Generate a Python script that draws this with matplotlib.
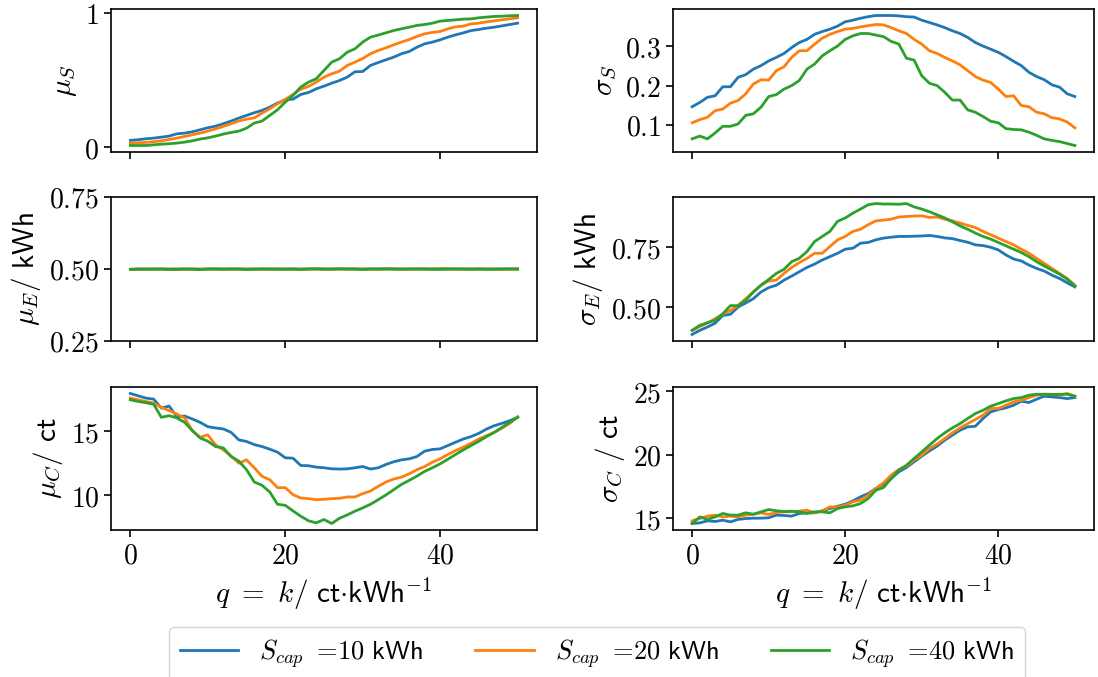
import matplotlib
matplotlib.use("Agg")
import matplotlib.pyplot as plt
import matplotlib.ticker as mticker

plt.rcParams['mathtext.fontset'] = 'cm'
plt.rcParams['font.size'] = 20
plt.rcParams['axes.linewidth'] = 1.2

q = list(range(0, 51))
cap_labels = [r'$S_{cap}\ {=}\!\mathsf{10\ kWh}$', r'$S_{cap}\ {=}\!\mathsf{20\ kWh}$', r'$S_{cap}\ {=}\!\mathsf{40\ kWh}$']
colors = ['#1f77b4', '#ff7f0e', '#2ca02c']

mu_S_10 = [0.050, 0.055, 0.062, 0.067, 0.074, 0.082, 0.099, 0.104, 0.114, 0.129, 0.144, 0.156, 0.174, 0.194, 0.216,
           0.236, 0.256, 0.273, 0.298, 0.328, 0.352, 0.357, 0.392, 0.407, 0.434, 0.454, 0.476, 0.496, 0.521, 0.561,
           0.563, 0.608, 0.630, 0.650, 0.670, 0.695, 0.712, 0.744, 0.769, 0.782, 0.799, 0.819, 0.836, 0.851, 0.868,
           0.876, 0.886, 0.893, 0.903, 0.913, 0.923]
mu_S_20 = [0.030, 0.032, 0.035, 0.040, 0.047, 0.057, 0.067, 0.079, 0.092, 0.104, 0.119, 0.136, 0.154, 0.174, 0.194,
           0.208, 0.218, 0.253, 0.285, 0.323, 0.355, 0.392, 0.432, 0.452, 0.484, 0.521, 0.546, 0.566, 0.608, 0.633,
           0.660, 0.695, 0.720, 0.739, 0.762, 0.782, 0.801, 0.824, 0.844, 0.854, 0.861, 0.881, 0.896, 0.901, 0.918,
           0.923, 0.933, 0.940, 0.948, 0.955, 0.963]
mu_S_40 = [0.012, 0.012, 0.012, 0.017, 0.022, 0.025, 0.030, 0.037, 0.047, 0.060, 0.069, 0.082, 0.097, 0.109, 0.119,
           0.141, 0.179, 0.194, 0.236, 0.278, 0.335, 0.385, 0.447, 0.484, 0.509, 0.571, 0.633, 0.658, 0.707, 0.732,
           0.782, 0.819, 0.834, 0.851, 0.868, 0.881, 0.893, 0.906, 0.913, 0.923, 0.938, 0.943, 0.948, 0.953, 0.955,
           0.963, 0.968, 0.973, 0.975, 0.978, 0.980]

sigma_S_10 = [0.146, 0.157, 0.170, 0.174, 0.197, 0.197, 0.221, 0.228, 0.242, 0.251, 0.263, 0.272, 0.282, 0.297, 0.310,
              0.318, 0.331, 0.338, 0.344, 0.352, 0.363, 0.367, 0.372, 0.376, 0.379, 0.379, 0.379, 0.378, 0.376, 0.375,
              0.367, 0.361, 0.355, 0.348, 0.340, 0.333, 0.323, 0.310, 0.301, 0.293, 0.285, 0.274, 0.262, 0.251, 0.234,
              0.223, 0.215, 0.202, 0.196, 0.179, 0.172]
sigma_S_20 = [0.105, 0.113, 0.119, 0.136, 0.140, 0.155, 0.162, 0.179, 0.204, 0.215, 0.214, 0.238, 0.248, 0.272, 0.289,
              0.289, 0.306, 0.321, 0.331, 0.338, 0.344, 0.346, 0.350, 0.353, 0.356, 0.355, 0.348, 0.340, 0.333, 0.318,
              0.306, 0.289, 0.282, 0.272, 0.263, 0.253, 0.238, 0.223, 0.214, 0.208, 0.191, 0.172, 0.174, 0.149, 0.146,
              0.132, 0.128, 0.118, 0.115, 0.107, 0.092]
sigma_S_40 = [0.064, 0.071, 0.064, 0.079, 0.096, 0.096, 0.102, 0.124, 0.128, 0.145, 0.172, 0.177, 0.191, 0.200, 0.213,
              0.242, 0.255, 0.276, 0.289, 0.301, 0.318, 0.327, 0.333, 0.333, 0.329, 0.325, 0.313, 0.306, 0.270, 0.265,
              0.225, 0.206, 0.200, 0.183, 0.163, 0.163, 0.138, 0.132, 0.121, 0.109, 0.105, 0.090, 0.088, 0.087, 0.081,
              0.073, 0.064, 0.060, 0.057, 0.052, 0.047]

mu_E_10 = [0.498, 0.499, 0.500, 0.499, 0.500, 0.499, 0.498, 0.500, 0.499, 0.498, 0.500, 0.500, 0.499, 0.500, 0.500,
           0.499, 0.499, 0.500, 0.500, 0.499, 0.499, 0.500, 0.499, 0.500, 0.500, 0.499, 0.500, 0.501, 0.500, 0.500,
           0.499, 0.500, 0.500, 0.501, 0.500, 0.499, 0.500, 0.500, 0.500, 0.499, 0.499, 0.500, 0.500, 0.500, 0.499,
           0.500, 0.500, 0.499, 0.500, 0.500, 0.500]
mu_E_20 = [0.499, 0.500, 0.500, 0.500, 0.499, 0.500, 0.500, 0.499, 0.500, 0.500, 0.499, 0.500, 0.500, 0.500, 0.499,
           0.500, 0.500, 0.500, 0.499, 0.500, 0.500, 0.499, 0.500, 0.500, 0.500, 0.500, 0.499, 0.500, 0.500, 0.500,
           0.500, 0.500, 0.499, 0.500, 0.500, 0.500, 0.499, 0.500, 0.500, 0.500, 0.501, 0.500, 0.500, 0.499, 0.500,
           0.500, 0.500, 0.500, 0.499, 0.500, 0.500]
mu_E_40 = [0.499, 0.500, 0.499, 0.500, 0.500, 0.499, 0.500, 0.500, 0.500, 0.499, 0.500, 0.500, 0.500, 0.500, 0.500,
           0.499, 0.500, 0.500, 0.500, 0.500, 0.500, 0.500, 0.499, 0.500, 0.501, 0.500, 0.500, 0.500, 0.500, 0.500,
           0.499, 0.500, 0.500, 0.500, 0.500, 0.500, 0.500, 0.500, 0.500, 0.500, 0.500, 0.500, 0.500, 0.500, 0.500,
           0.500, 0.499, 0.500, 0.500, 0.500, 0.500]

sigma_E_10 = [0.387, 0.404, 0.418, 0.434, 0.466, 0.471, 0.501, 0.518, 0.536, 0.564, 0.582, 0.592, 0.613, 0.630, 0.648,
              0.666, 0.680, 0.697, 0.711, 0.725, 0.742, 0.746, 0.767, 0.770, 0.781, 0.788, 0.792, 0.795, 0.795, 0.796,
              0.797, 0.799, 0.795, 0.789, 0.786, 0.778, 0.771, 0.760, 0.757, 0.750, 0.739, 0.718, 0.701, 0.693, 0.676,
              0.662, 0.651, 0.634, 0.620, 0.602, 0.585]
sigma_E_20 = [0.404, 0.420, 0.434, 0.453, 0.471, 0.487, 0.508, 0.536, 0.564, 0.592, 0.610, 0.613, 0.641, 0.666, 0.686,
              0.704, 0.725, 0.725, 0.753, 0.781, 0.795, 0.816, 0.825, 0.844, 0.860, 0.863, 0.867, 0.876, 0.878, 0.880,
              0.881, 0.874, 0.876, 0.867, 0.860, 0.851, 0.841, 0.832, 0.816, 0.802, 0.788, 0.774, 0.760, 0.742, 0.725,
              0.704, 0.683, 0.662, 0.641, 0.620, 0.592]
sigma_E_40 = [0.404, 0.425, 0.436, 0.446, 0.473, 0.507, 0.507, 0.529, 0.564, 0.592, 0.616, 0.641, 0.658, 0.690, 0.704,
              0.732, 0.774, 0.795, 0.816, 0.858, 0.872, 0.892, 0.909, 0.927, 0.932, 0.930, 0.930, 0.929, 0.932, 0.918,
              0.909, 0.898, 0.885, 0.872, 0.856, 0.839, 0.825, 0.809, 0.795, 0.784, 0.770, 0.756, 0.742, 0.728, 0.711,
              0.690, 0.672, 0.655, 0.638, 0.617, 0.589]

mu_C_10 = [17.95, 17.77, 17.59, 17.51, 16.81, 16.97, 16.14, 16.19, 15.96, 15.70, 15.36, 15.26, 15.18, 14.92, 14.33,
           14.20, 13.96, 13.81, 13.60, 13.37, 12.93, 12.90, 12.33, 12.31, 12.20, 12.15, 12.07, 12.05, 12.07, 12.15,
           12.25, 12.05, 12.15, 12.41, 12.62, 12.77, 12.85, 13.03, 13.45, 13.58, 13.63, 13.89, 14.15, 14.40, 14.59,
           14.84, 15.18, 15.44, 15.62, 15.83, 16.09]
mu_C_20 = [17.59, 17.46, 17.33, 17.20, 16.87, 16.61, 16.35, 16.04, 15.05, 14.53, 14.72, 13.94, 13.55, 13.08, 12.51,
           12.77, 12.15, 11.48, 11.22, 10.60, 10.60, 10.05, 9.79, 9.74, 9.66, 9.69, 9.74, 9.77, 9.87, 9.87,
           10.13, 10.34, 10.70, 11.04, 11.27, 11.42, 11.68, 12.00, 12.25, 12.59, 12.85, 13.19, 13.50, 13.76, 14.07,
           14.40, 14.66, 14.92, 15.26, 15.62, 16.14]
mu_C_40 = [17.46, 17.33, 17.23, 17.12, 16.09, 16.22, 16.04, 15.70, 15.05, 14.48, 14.22, 13.81, 13.70, 13.03, 12.67,
           12.00, 11.04, 10.78, 10.26, 9.30, 9.22, 8.78, 8.37, 8.01, 7.85, 8.11, 7.80, 8.21, 8.47, 8.76,
           9.02, 9.30, 9.66, 10.03, 10.44, 10.85, 11.17, 11.50, 11.87, 12.15, 12.46, 12.82, 13.19, 13.55, 13.89,
           14.22, 14.59, 14.92, 15.31, 15.70, 16.09]

sigma_C_10 = [14.58, 14.63, 14.79, 14.74, 14.84, 14.71, 14.90, 14.97, 15.00, 15.00, 15.03, 15.24, 15.21, 15.16, 15.37,
              15.42, 15.42, 15.58, 15.76, 15.94, 16.10, 16.36, 16.68, 16.94, 17.34, 17.68, 18.12, 18.65, 18.99, 19.44,
              19.88, 20.30, 20.67, 21.14, 21.54, 21.93, 22.19, 22.24, 22.85, 23.37, 23.56, 23.69, 23.90, 24.21, 24.11,
              24.37, 24.61, 24.55, 24.50, 24.42, 24.50]
sigma_C_20 = [14.79, 14.97, 15.16, 15.24, 15.10, 15.16, 15.10, 15.24, 15.31, 15.42, 15.29, 15.45, 15.50, 15.50, 15.55,
              15.63, 15.42, 15.58, 15.89, 15.89, 16.02, 16.29, 16.42, 16.81, 17.34, 17.78, 18.39, 18.83, 19.10, 19.57,
              19.96, 20.49, 20.83, 21.27, 21.72, 22.11, 22.45, 22.77, 23.11, 23.64, 23.64, 23.90, 24.16, 24.29, 24.50,
              24.69, 24.76, 24.76, 24.69, 24.82, 24.61]
sigma_C_40 = [14.58, 15.10, 14.90, 15.10, 15.37, 15.24, 15.24, 15.42, 15.31, 15.50, 15.68, 15.58, 15.52, 15.55, 15.50,
              15.37, 15.50, 15.50, 15.42, 15.76, 15.89, 15.97, 16.15, 16.55, 17.20, 17.41, 18.12, 18.78, 19.17, 19.70,
              20.22, 20.75, 21.27, 21.72, 22.11, 22.45, 22.85, 23.24, 23.50, 23.82, 24.03, 24.24, 24.42, 24.50, 24.69,
              24.76, 24.76, 24.74, 24.76, 24.76, 24.61]

panels = [
    ([mu_S_10, mu_S_20, mu_S_40], r'$\mu_S$', [0, 1], '$%g$'),
    ([sigma_S_10, sigma_S_20, sigma_S_40], r'$\sigma_S$', [0.1, 0.2, 0.3], '$%.1f$'),
    ([mu_E_10, mu_E_20, mu_E_40], r'$\mu_E/\ \mathsf{kWh}$', [0.25, 0.50, 0.75], '$%.2f$'),
    ([sigma_E_10, sigma_E_20, sigma_E_40], r'$\sigma_E/\ \mathsf{kWh}$', [0.50, 0.75], '$%.2f$'),
    ([mu_C_10, mu_C_20, mu_C_40], r'$\mu_C/\ \mathsf{ct}$', [10, 15], '$%g$'),
    ([sigma_C_10, sigma_C_20, sigma_C_40], r'$\sigma_C\ /\ \mathsf{ct}$', [15, 20, 25], '$%g$'),
]

fig = plt.figure(figsize=(10.98, 6.77), dpi=100)
W, H = 1098.0, 677.0
cols = [(111, 537), (673, 1094)]
rows = [(9, 152), (197, 341), (387, 530)]

axes = []
for i, (series, ylabel, yticks, fmt) in enumerate(panels):
    r, c = divmod(i, 2)
    x0, x1 = cols[c]
    y0, y1 = rows[r]
    ax = fig.add_axes([x0 / W, 1 - y1 / H, (x1 - x0) / W, (y1 - y0) / H])
    lines = []
    for s, col, lab in zip(series, colors, cap_labels):
        ln, = ax.plot(q, s, color=col, lw=2, label=lab)
        lines.append(ln)
    ax.set_yticks(yticks)
    ax.yaxis.set_major_formatter(mticker.FormatStrFormatter(fmt))
    ax.set_xticks([0, 20, 40])
    if r < 2:
        ax.tick_params(axis='x', labelbottom=False)
    else:
        ax.xaxis.set_major_formatter(mticker.FormatStrFormatter('$%g$'))
        ax.set_xlabel(r'$q\ {=}\ k/\ \mathsf{ct}{\cdot}\mathsf{kWh}^{-1}$', fontsize=21)
    if i == 2:
        ax.set_ylim(0.25, 0.75)
    ax.set_ylabel(ylabel, fontsize=21)
    ax.tick_params(length=5, width=1.2)
    axes.append(ax)

fig.legend(handles=lines, loc='lower center', bbox_to_anchor=(597 / W, -0.025), ncol=3,
           columnspacing=2.0, handlelength=2.2, fontsize=19)

fig.savefig('out.png', dpi=100)
